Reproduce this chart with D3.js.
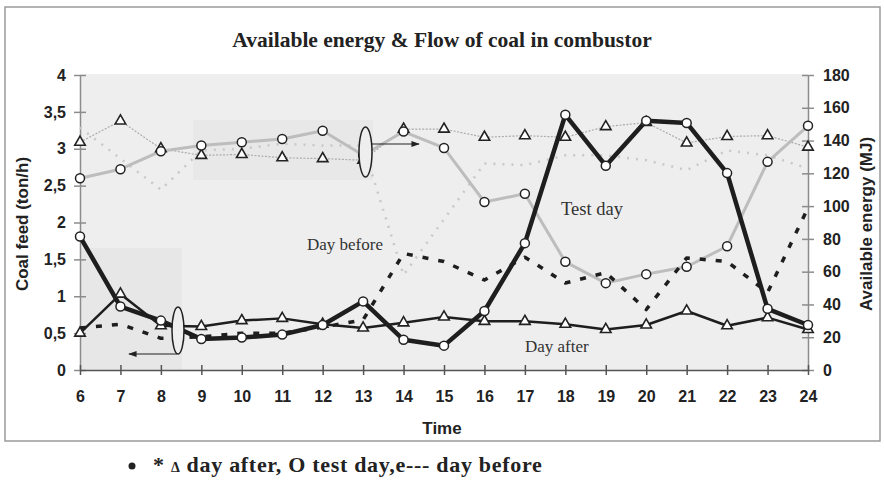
<!DOCTYPE html>
<html>
<head>
<meta charset="utf-8">
<script src="https://cdn.jsdelivr.net/npm/d3@7"></script>
<style>
  body { margin: 0; background: #fff; }
  svg { display: block; }
  .tick text { font-family: "Liberation Sans", Arial, sans-serif; font-weight: bold; font-size: 16px; fill: #222; }
</style>
</head>
<body>
<div id="chart"></div>
<script>
// hours of the day (x axis)
const hours = [6, 7, 8, 9, 10, 11, 12, 13, 14, 15, 16, 17, 18, 19, 20, 21, 22, 23, 24];

// coal feed, ton/h (left axis)
const coalTest   = [1.81, 0.86, 0.67, 0.42, 0.44, 0.48, 0.61, 0.93, 0.41, 0.33, 0.80, 1.72, 3.46, 2.77, 3.38, 3.35, 2.67, 0.83, 0.61];
const coalAfter  = [0.50, 1.03, 0.60, 0.59, 0.67, 0.70, 0.62, 0.57, 0.64, 0.72, 0.66, 0.66, 0.62, 0.55, 0.61, 0.80, 0.60, 0.71, 0.55];
const coalBefore = [0.57, 0.62, 0.43, 0.45, 0.50, 0.50, 0.58, 0.68, 1.58, 1.47, 1.22, 1.53, 1.18, 1.32, 0.82, 1.52, 1.47, 1.05, 2.20];

// available energy, MJ (right axis)
const energyTest   = [117, 122.5, 133.5, 137, 139, 141, 146, 131, 145.5, 135.5, 102.5, 107.5, 66, 53, 58.5, 63, 75.5, 127, 149];
const energyAfter  = [139, 152, 135, 131, 131.5, 129.5, 129, 128, 147, 147, 142, 143, 142, 148.5, 151, 138.5, 142.5, 143, 136];
const energyBefore = [148, 129, 110, 134, 135, 138, 137, 137, 58, 92, 126, 125, 131, 131, 128, 122, 134, 131, 123];

const leftTicks = [0, 0.5, 1, 1.5, 2, 2.5, 3, 3.5, 4];
const rightTicks = [0, 20, 40, 60, 80, 100, 120, 140, 160, 180];

const W = 884, H = 480;
const svg = d3.select('#chart').append('svg').attr('width', W).attr('height', H);

// outer frame
svg.append('rect').attr('x', 5).attr('y', 7).attr('width', 875).attr('height', 434)
    .attr('fill', '#fff').attr('stroke', '#9a9a9a').attr('stroke-width', 1.5);

const x = d3.scaleLinear().domain([6, 24]).range([80, 808]);
const yL = d3.scaleLinear().domain([0, 4]).range([370, 75]);
const yR = d3.scaleLinear().domain([0, 180]).range([370, 75]);

// plot background (scanned, slightly patchy grey)
svg.append('rect').attr('x', 80).attr('y', 74).attr('width', 728).attr('height', 296).attr('fill', '#eeeeee');
svg.append('rect').attr('x', 80).attr('y', 248).attr('width', 102).attr('height', 122).attr('fill', '#e7e7e7');
svg.append('rect').attr('x', 193).attr('y', 120).attr('width', 180).attr('height', 60).attr('fill', '#e8e8e8');

// title
svg.append('text').attr('x', 442).attr('y', 47).attr('text-anchor', 'middle')
    .style('font-family', '"Liberation Serif", "Times New Roman", serif').style('font-weight', 'bold')
    .style('font-size', '21.5px').attr('fill', '#222')
    .text('Available energy & Flow of coal in combustor');

// axes
const gLeft = svg.append('g').attr('transform', 'translate(80,0)')
    .call(d3.axisLeft(yL).tickValues(leftTicks).tickSizeInner(6).tickSizeOuter(0).tickPadding(8)
        .tickFormat(d => String(d).replace('.', ',')));
const gRight = svg.append('g').attr('transform', 'translate(808,0)')
    .call(d3.axisRight(yR).tickValues(rightTicks).tickSizeInner(6).tickSizeOuter(0).tickPadding(9));
const gBottom = svg.append('g').attr('transform', 'translate(0,370)')
    .call(d3.axisBottom(x).tickValues(hours).tickSizeInner(5).tickSizeOuter(0).tickPadding(16)
        .tickFormat(d3.format('d')));

gLeft.selectAll('.tick line').attr('x1', 6);
gRight.selectAll('.tick line').attr('x1', -6);
gBottom.selectAll('.tick line').attr('y1', -5);
gLeft.selectAll('.domain, .tick line').attr('stroke', '#8c8c8c').attr('stroke-width', 1.5);
gRight.selectAll('.domain, .tick line').attr('stroke', '#8c8c8c').attr('stroke-width', 1.5);
gBottom.selectAll('.domain, .tick line').attr('stroke', '#555').attr('stroke-width', 1.5);

// axis titles
const sans = '"Liberation Sans", Arial, sans-serif';
svg.append('text').attr('transform', 'translate(28,224) rotate(-90)').attr('text-anchor', 'middle')
    .style('font-family', sans).style('font-weight', 'bold').style('font-size', '17px').attr('fill', '#222')
    .text('Coal feed (ton/h)');
svg.append('text').attr('transform', 'translate(872,224) rotate(-90)').attr('text-anchor', 'middle')
    .style('font-family', sans).style('font-weight', 'bold').style('font-size', '17px').attr('fill', '#222')
    .text('Available energy (MJ)');
svg.append('text').attr('x', 442).attr('y', 434).attr('text-anchor', 'middle')
    .style('font-family', sans).style('font-weight', 'bold').style('font-size', '17px').attr('fill', '#222')
    .text('Time');

// series
function series(values, yScale) {
    return hours.map((h, i) => ({ h: h, v: values[i], y: yScale }));
}
const line = d3.line().x(d => x(d.h)).y(d => d.y(d.v));

function drawLine(data, color, width, dash) {
    svg.append('path').datum(data).attr('d', line)
        .attr('fill', 'none').attr('stroke', color).attr('stroke-width', width)
        .attr('stroke-linejoin', 'round')
        .attr('stroke-dasharray', dash || null);
}
function drawCircles(data) {
    svg.append('g').selectAll('circle').data(data).enter().append('circle')
        .attr('cx', d => x(d.h)).attr('cy', d => d.y(d.v)).attr('r', 4.5)
        .attr('fill', '#fff').attr('stroke', '#222').attr('stroke-width', 1.5);
}
const tri = d3.symbol().type(d3.symbolTriangle).size(48);
function drawTriangles(data) {
    svg.append('g').selectAll('path').data(data).enter().append('path')
        .attr('d', tri)
        .attr('transform', d => `translate(${x(d.h)},${d.y(d.v)})`)
        .attr('fill', '#fff').attr('stroke', '#222').attr('stroke-width', 1.6);
}

const eBefore = series(energyBefore, yR);
const eTest = series(energyTest, yR);
const eAfter = series(energyAfter, yR);
const cBefore = series(coalBefore, yL);
const cTest = series(coalTest, yL);
const cAfter = series(coalAfter, yL);

// energy (grey)
drawLine(eBefore, '#c8c8c8', 2.5, '2,7');
drawLine(eAfter, '#ababab', 1.2, '2,1.5');
drawLine(eTest, '#bdbdbd', 3);

// coal feed (black)
drawLine(cBefore, '#1e1e1e', 3.5, '6,10');
drawLine(cAfter, '#1e1e1e', 2.5);
drawLine(cTest, '#1e1e1e', 4.5);

drawTriangles(eAfter);
drawCircles(eTest);
drawTriangles(cAfter);
drawCircles(cTest);

// ellipses that mark which axis a group belongs to
svg.append('defs').append('marker').attr('id', 'arrow')
    .attr('viewBox', '0 0 10 10').attr('refX', 9).attr('refY', 5)
    .attr('markerWidth', 7).attr('markerHeight', 7).attr('orient', 'auto')
    .append('path').attr('d', 'M0,1.5 L10,5 L0,8.5 Z').attr('fill', '#222');

svg.append('ellipse').attr('cx', 365.5).attr('cy', 152).attr('rx', 6.5).attr('ry', 25)
    .attr('fill', '#eeeeee').attr('stroke', '#222').attr('stroke-width', 1.5);
svg.append('line').attr('x1', 372).attr('y1', 144).attr('x2', 419).attr('y2', 144)
    .attr('stroke', '#222').attr('stroke-width', 1.2).attr('marker-end', 'url(#arrow)');

svg.append('ellipse').attr('cx', 178).attr('cy', 330.5).attr('rx', 6).attr('ry', 23.5)
    .attr('fill', '#eeeeee').attr('stroke', '#222').attr('stroke-width', 1.5);
svg.append('line').attr('x1', 177).attr('y1', 354).attr('x2', 129).attr('y2', 354)
    .attr('stroke', '#222').attr('stroke-width', 1.2).attr('marker-end', 'url(#arrow)');

// in-plot labels
const serif = '"Liberation Serif", "Times New Roman", serif';
function label(tx, ty, t, size) {
    svg.append('text').attr('x', tx).attr('y', ty)
        .style('font-family', serif).style('font-size', size + 'px').attr('fill', '#333').text(t);
}
label(561, 215, 'Test day', 18.5);
label(307, 250, 'Day before', 17);
label(525, 352, 'Day after', 17);

// note under the chart
svg.append('circle').attr('cx', 132).attr('cy', 466).attr('r', 3.5).attr('fill', '#222');
const note = svg.append('text').attr('x', 153).attr('y', 472)
    .style('font-family', serif).style('font-weight', 'bold').style('font-size', '22px')
    .style('letter-spacing', '0.7px').attr('fill', '#222');
note.append('tspan').text('* ');
note.append('tspan').style('font-size', '14px').text('Δ');
note.append('tspan').text(' day after, O test day,e--- day before');
</script>
</body>
</html>
